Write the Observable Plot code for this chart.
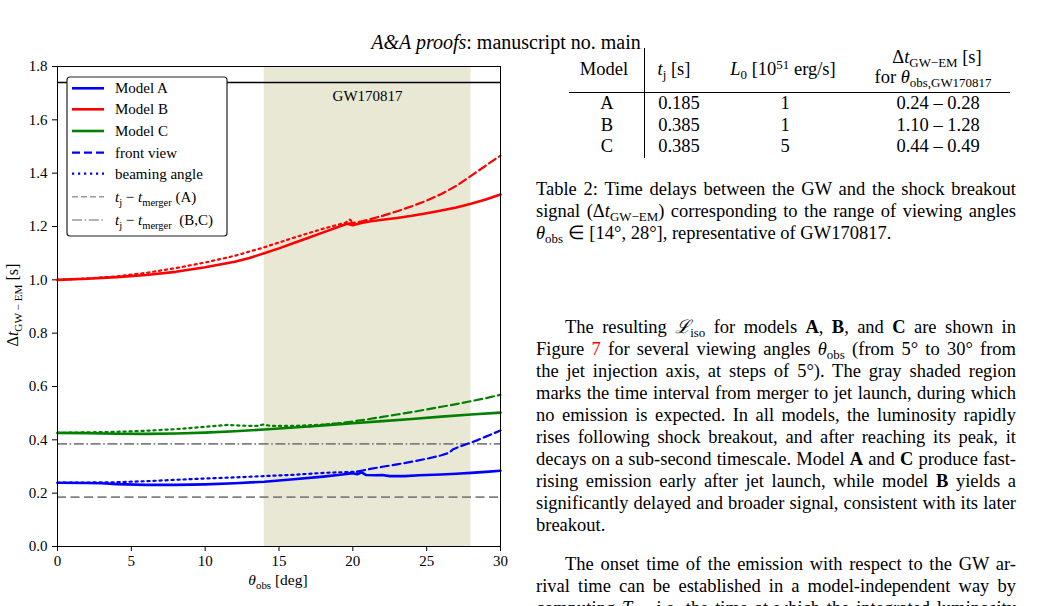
<!DOCTYPE html>
<html>
<head>
<meta charset="utf-8">
<script src="https://cdn.jsdelivr.net/npm/d3@7"></script>
<script src="https://cdn.jsdelivr.net/npm/@observablehq/plot@0.6"></script>
<style>
  html, body { margin: 0; padding: 0; background: #fff; }
  #page { position: relative; width: 1051px; height: 606px; overflow: hidden;
          font-family: "Liberation Serif", "Times New Roman", serif; color: #000; }
  .hdr { position: absolute; top: 31px; left: 0; width: 1012px; text-align: center;
         font-size: 20px; line-height: 22px; }
  #chart { position: absolute; left: 0; top: 50px; }
  #chart svg, #chart svg text { font-family: "Liberation Serif", "Times New Roman", serif !important; }
  .ln { position: absolute; left: 536px; width: 480px; height: 22px; line-height: 22px;
        font-size: 18.5px; text-align: justify; text-align-last: justify; }
  .ln.last { text-align-last: left; }
  .ln.ind { padding-left: 29px; width: 451px; }
  .cell { position: absolute; font-size: 18.5px; line-height: 22px; white-space: nowrap;
          transform: translateX(-50%); }
  sub { font-size: 0.7em; vertical-align: -0.3em; line-height: 0; }
  sup { font-size: 0.7em; vertical-align: 0.45em; line-height: 0; }
  .red { color: #ff0000; }
  .hrule { position: absolute; height: 1px; background: #000; }
  .vrule { position: absolute; width: 1px; background: #000; }
</style>
</head>
<body>
<div id="page">
  <div class="hdr"><i>A&amp;A proofs</i>: manuscript no. main</div>
  <div id="chart"></div>

  <!-- Table 2 -->
  <div class="cell" style="left:604px; top:58px;">Model</div>
  <div class="cell" style="left:674px; top:58px;"><i>t</i><sub>j</sub> [s]</div>
  <div class="cell" style="left:783px; top:58px;"><i>L</i><sub>0</sub> [10<sup>51</sup> erg/s]</div>
  <div class="cell" style="left:937px; top:46px;">Δ<i>t</i><sub>GW−EM</sub> [s]</div>
  <div class="cell" style="left:933px; top:66px;">for <i>θ</i><sub>obs,GW170817</sub></div>
  <div class="hrule" style="left:569px; top:92px; width:441px;"></div>
  <div class="vrule" style="left:644px; top:48px; height:110px;"></div>
  <div id="rows"></div>

  <div class="ln" style="top:178px;">Table 2: Time delays between the GW and the shock breakout</div>
  <div class="ln" style="top:200px;">signal (Δ<i>t</i><sub>GW−EM</sub>) corresponding to the range of viewing angles</div>
  <div class="ln last" style="top:222px;"><i>θ</i><sub>obs</sub> ∈ [14°, 28°], representative of GW170817.</div>

  <div class="ln ind" style="top:316px;">The resulting <i>ℒ</i><sub>iso</sub> for models <b>A</b>, <b>B</b>, and <b>C</b> are shown in</div>
  <div class="ln" style="top:338px;">Figure <span class="red">7</span> for several viewing angles <i>θ</i><sub>obs</sub> (from 5° to 30° from</div>
  <div class="ln" style="top:360px;">the jet injection axis, at steps of 5°). The gray shaded region</div>
  <div class="ln" style="top:382px;">marks the time interval from merger to jet launch, during which</div>
  <div class="ln" style="top:404px;">no emission is expected. In all models, the luminosity rapidly</div>
  <div class="ln" style="top:426px;">rises following shock breakout, and after reaching its peak, it</div>
  <div class="ln" style="top:448px;">decays on a sub-second timescale. Model <b>A</b> and <b>C</b> produce fast-</div>
  <div class="ln" style="top:470px;">rising emission early after jet launch, while model <b>B</b> yields a</div>
  <div class="ln" style="top:492px;">significantly delayed and broader signal, consistent with its later</div>
  <div class="ln last" style="top:514px;">breakout.</div>

  <div class="ln ind" style="top:553px;">The onset time of the emission with respect to the GW ar-</div>
  <div class="ln" style="top:575px;">rival time can be established in a model-independent way by</div>
  <div class="ln" style="top:597px;">computing <i>T</i><sub>90</sub>, i.e. the time at which the integrated luminosity</div>
</div>

<script>
// ---- axis ticks ----
const xTicks = [0, 5, 10, 15, 20, 25, 30];
const yTicks = [0, 0.2, 0.4, 0.6, 0.8, 1.0, 1.2, 1.4, 1.6, 1.8];

// ---- reference markers ----
const gwBand = [14, 28];          // viewing-angle range of GW170817 [deg]
const gwDelay = [1.74];           // observed GW–GRB delay [s]
const tjA = [0.185];              // t_j - t_merger, model A [s]
const tjBC = [0.385];             // t_j - t_merger, models B and C [s]

// ---- Model A ----
const thetaA = [0, 2, 3, 4, 6, 8, 10, 12, 14, 16, 18, 19, 20, 20.3, 20.6, 20.9, 21.5, 22, 22.5, 23.5, 24.5, 25, 26, 27, 28, 29, 30];
const dtA = [0.239, 0.238, 0.237, 0.234, 0.231, 0.231, 0.233, 0.237, 0.243, 0.252, 0.262, 0.268, 0.275, 0.271, 0.278, 0.268, 0.267, 0.268, 0.264, 0.264, 0.267, 0.268, 0.270, 0.273, 0.276, 0.280, 0.284];
const thetaAFront = [19.5, 20, 21, 22, 23, 24, 25, 26, 26.5, 26.8, 27.5, 28.4, 29, 30];
const dtAFront = [0.272, 0.277, 0.289, 0.299, 0.308, 0.318, 0.329, 0.342, 0.351, 0.365, 0.380, 0.398, 0.412, 0.435];
const thetaABeam = [0, 2, 4, 6, 8, 10, 12, 14, 16, 18, 20, 20.3];
const dtABeam = [0.239, 0.240, 0.241, 0.245, 0.250, 0.255, 0.259, 0.264, 0.269, 0.276, 0.280, 0.281];

// ---- Model B ----
const thetaB = [0, 2, 4, 6, 8, 10, 12, 13, 14, 15, 16, 17, 18, 19, 19.6, 20, 20.5, 21, 22, 23, 24, 25, 26, 27, 28, 29, 30];
const dtB = [1.000, 1.004, 1.010, 1.018, 1.030, 1.047, 1.068, 1.082, 1.100, 1.118, 1.138, 1.158, 1.178, 1.198, 1.210, 1.205, 1.212, 1.218, 1.225, 1.232, 1.240, 1.250, 1.260, 1.271, 1.285, 1.301, 1.320];
const thetaBFront = [19.6, 20.5, 21, 22, 23, 24, 25, 26, 27, 28, 29, 30];
const dtBFront = [1.210, 1.218, 1.225, 1.240, 1.257, 1.276, 1.297, 1.322, 1.352, 1.390, 1.428, 1.466];
const thetaBBeam = [0, 2, 4, 6, 8, 10, 12, 14, 16, 18, 19.5, 19.8, 20.1];
const dtBBeam = [1.000, 1.005, 1.013, 1.026, 1.044, 1.065, 1.090, 1.122, 1.158, 1.192, 1.214, 1.226, 1.210];

// ---- Model C ----
const thetaC = [0, 2, 4, 6, 8, 10, 12, 14, 16, 18, 20, 22, 24, 26, 28, 30];
const dtC = [0.426, 0.425, 0.423, 0.4225, 0.424, 0.427, 0.432, 0.439, 0.446, 0.454, 0.462, 0.470, 0.478, 0.487, 0.495, 0.502];
const thetaCFront = [17, 18, 19, 20, 21, 22, 23, 24, 25, 26, 27, 28, 29, 30];
const dtCFront = [0.450, 0.456, 0.462, 0.469, 0.477, 0.486, 0.495, 0.504, 0.514, 0.524, 0.534, 0.545, 0.556, 0.569];
const thetaCBeam = [0, 2, 4, 6, 8, 10, 11.5, 12.5, 13.5, 13.9, 14.5, 16, 18, 20];
const dtCBeam = [0.426, 0.428, 0.430, 0.434, 0.440, 0.449, 0.456, 0.453, 0.452, 0.457, 0.452, 0.452, 0.457, 0.465];

// ---- table rows ----
const tableModels = ["A", "B", "C"];
const tableTj = ["0.185", "0.385", "0.385"];
const tableL0 = ["1", "1", "5"];
const tableDt = ["0.24 – 0.28", "1.10 – 1.28", "0.44 – 0.49"];

const rowsEl = document.getElementById("rows");
tableModels.forEach((m, i) => {
  const top = 92 + i * 21.7;
  [[m, 607], [tableTj[i], 679], [tableL0[i], 785], [tableDt[i], 938]].forEach(([t, x]) => {
    const d = document.createElement("div");
    d.className = "cell";
    d.style.left = x + "px";
    d.style.top = top + "px";
    d.textContent = t;
    rowsEl.appendChild(d);
  });
});

// ---- chart ----
const SOLID = 2.6, DASHW = 2.2;
const dash = "8,4", dots = "2.2,3.8";
const lineSets = [
  {c: "blue",  s: [thetaA, dtA], f: [thetaAFront, dtAFront], b: [thetaABeam, dtABeam]},
  {c: "red",   s: [thetaB, dtB], f: [thetaBFront, dtBFront], b: [thetaBBeam, dtBBeam]},
  {c: "green", s: [thetaC, dtC], f: [thetaCFront, dtCFront], b: [thetaCBeam, dtCBeam]}
];

const curveMarks = [];
for (const L of lineSets) {
  curveMarks.push(Plot.line(L.f[1], {x: L.f[0], y: L.f[1], stroke: L.c, strokeWidth: DASHW, strokeDasharray: dash}));
  curveMarks.push(Plot.line(L.b[1], {x: L.b[0], y: L.b[1], stroke: L.c, strokeWidth: DASHW, strokeDasharray: dots}));
}
for (const L of lineSets) {
  curveMarks.push(Plot.line(L.s[1], {x: L.s[0], y: L.s[1], stroke: L.c, strokeWidth: SOLID}));
}

const font = "'Liberation Serif', 'Times New Roman', serif";

const chart = Plot.plot({
  width: 520,
  height: 556,
  marginLeft: 57,
  marginRight: 20,
  marginTop: 16,
  marginBottom: 60,
  style: {fontFamily: font, fontSize: "15px", background: "transparent", color: "#000"},
  x: {domain: [0, 30], ticks: xTicks, tickSize: 5, tickPadding: 4, label: null},
  y: {domain: [0, 1.8], ticks: yTicks, tickFormat: d3.format(".1f"), tickSize: 5, tickPadding: 5, label: null},
  marks: [
    Plot.rect([gwBand], {x1: d => d[0], x2: d => d[1], y1: 0, y2: 1.8, fill: "#e8e8d5"}),
    Plot.ruleY(tjA, {stroke: "#808080", strokeWidth: 1.6, strokeDasharray: "9,4.5"}),
    Plot.ruleY(tjBC, {stroke: "#808080", strokeWidth: 1.6, strokeDasharray: "10,2.6,1.6,2.6"}),
    Plot.ruleY(gwDelay, {stroke: "#000", strokeWidth: 1.6}),
    Plot.text(["GW170817"], {x: (gwBand[0] + gwBand[1]) / 2, y: 1.69, text: d => d, fontSize: 15, fill: "#000"}),
    ...curveMarks,
    Plot.frame({stroke: "#000", strokeWidth: 1})
  ]
});
document.getElementById("chart").appendChild(chart);

// rich text helper: parts = [text, flags] with flags "i" italic, "s" subscript
function rich(textSel, parts, size) {
  let shifted = false;
  for (const [t, fl] of parts) {
    const ts = textSel.append("tspan").text(t);
    if (fl.includes("i")) ts.attr("font-style", "italic");
    if (fl.includes("s")) {
      ts.attr("font-size", size * 0.7);
      if (!shifted) { ts.attr("dy", size * 0.28); shifted = true; }
    } else if (shifted) {
      ts.attr("dy", -size * 0.28); shifted = false;
    }
  }
  return textSel;
}

const svg = d3.select(chart);

// axis labels
rich(svg.append("text").attr("x", 278).attr("y", 535).attr("text-anchor", "middle")
  .attr("font-size", 15.5).attr("fill", "#000"),
  [["θ", "i"], ["obs", "s"], [" [deg]", ""]], 15.5);
rich(svg.append("text").attr("transform", "translate(18,255) rotate(-90)").attr("text-anchor", "middle")
  .attr("font-size", 16).attr("fill", "#000"),
  [["Δ", ""], ["t", "i"], ["GW − EM", "s"], [" [s]", ""]], 16);

// legend
const legendEntries = [
  {stroke: "blue", w: SOLID, dash: null, label: [["Model A", ""]]},
  {stroke: "red", w: SOLID, dash: null, label: [["Model B", ""]]},
  {stroke: "green", w: SOLID, dash: null, label: [["Model C", ""]]},
  {stroke: "blue", w: DASHW, dash: dash, label: [["front view", ""]]},
  {stroke: "blue", w: DASHW, dash: dots, label: [["beaming angle", ""]]},
  {stroke: "#999", w: 1.6, dash: "6,3", label: [["t", "i"], ["j", "s"], [" − ", ""], ["t", "i"], ["merger", "s"], [" (A)", ""]]},
  {stroke: "#999", w: 1.6, dash: "10,2.6,1.6,2.6", label: [["t", "i"], ["j", "s"], [" − ", ""], ["t", "i"], ["merger", "s"], ["  (B,C)", ""]]}
];
const legendRowY = [38.3, 59.3, 81, 102.7, 123.7, 146.7, 170];
const lg = svg.append("g").attr("text-anchor", "start");
lg.append("rect").attr("x", 67).attr("y", 27).attr("width", 160).attr("height", 159)
  .attr("rx", 3).attr("fill", "#fff").attr("stroke", "#222").attr("stroke-width", 1.2);
legendEntries.forEach((e, i) => {
  const y = legendRowY[i];
  const ln = lg.append("line").attr("x1", 72).attr("x2", 104).attr("y1", y).attr("y2", y)
    .attr("stroke", e.stroke).attr("stroke-width", e.w);
  if (e.dash) ln.attr("stroke-dasharray", e.dash);
  rich(lg.append("text").attr("x", 115).attr("y", y + 5).attr("text-anchor", "start")
    .attr("font-size", 15).attr("fill", "#000").style("white-space", "pre"),
    e.label, 15);
});
</script>
</body>
</html>
